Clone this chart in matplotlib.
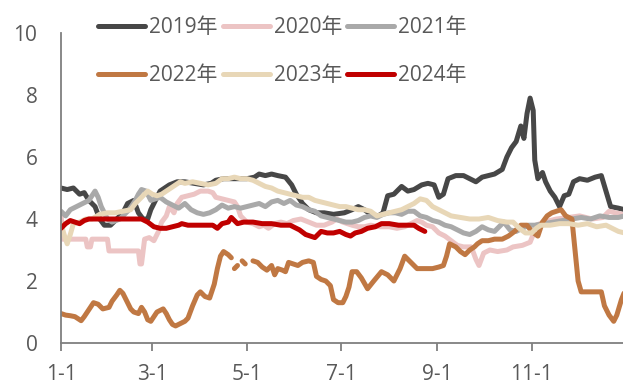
import numpy as np
import matplotlib.pyplot as plt

plt.rcParams['font.family'] = ['Open Sans', 'Noto Sans CJK SC', 'DejaVu Sans']

# day-of-year (0 = Jan 1) and value for each year
d2019 = [0, 4, 8, 12, 15, 18, 22, 25, 28, 32, 36, 40, 43, 47, 50, 53, 56, 58, 61, 64,
         67, 70, 75, 80, 86, 92, 97, 100, 105, 110, 115, 120, 125, 128, 132, 136, 140, 145, 149, 152,
         156, 160, 165, 170, 176, 183, 188, 192, 196, 200, 205, 208, 211, 215, 220, 224, 228, 233, 237, 241,
         244, 247, 250, 255, 260, 264, 268, 272, 276, 280, 285, 288, 291, 294, 297, 299, 301, 303, 305, 306,
         308, 311, 313, 316, 319, 322, 325, 328, 331, 335, 340, 345, 349, 352, 355, 360, 364]
v2019 = [5.0, 4.95, 5.0, 4.8, 4.85, 4.6, 4.4, 4.0, 3.8, 3.8, 4.0, 4.2, 4.5, 4.6, 4.2, 4.0, 4.0, 4.3, 4.6, 4.9,
         5.0, 5.1, 5.2, 5.2, 5.15, 5.1, 5.15, 5.25, 5.3, 5.3, 5.3, 5.3, 5.35, 5.45, 5.4, 5.45, 5.4, 5.35, 5.1, 4.8,
         4.5, 4.3, 4.2, 4.2, 4.15, 4.2, 4.3, 4.4, 4.3, 4.15, 4.1, 4.2, 4.75, 4.8, 5.05, 4.9, 4.95, 5.1, 5.15, 5.1,
         4.7, 4.8, 5.3, 5.4, 5.4, 5.3, 5.2, 5.35, 5.4, 5.45, 5.6, 6.0, 6.3, 6.5, 7.0, 6.6, 7.4, 7.9, 7.5, 5.9,
         5.3, 5.5, 5.2, 4.9, 4.7, 4.4, 4.75, 4.8, 5.2, 5.3, 5.25, 5.35, 5.4, 4.9, 4.4, 4.35, 4.3]

d2020 = [0, 1, 10, 16, 17, 19, 20, 30, 31, 45, 50, 51, 52, 54, 57, 60, 63, 65, 68, 70,
         73, 75, 78, 82, 86, 90, 95, 98, 100, 104, 108, 112, 114, 116, 118, 120, 124, 128, 131, 134,
         138, 142, 146, 150, 155, 160, 165, 170, 175, 178, 182, 188, 192, 196, 200, 206, 212, 217, 222, 230,
         233, 236, 240, 244, 248, 252, 256, 260, 265, 268, 270, 273, 277, 282, 288, 292, 298, 303, 305, 307,
         312, 320, 328, 335, 343, 350, 354, 358, 363]
v2020 = [4.2, 3.35, 3.35, 3.35, 3.1, 3.1, 3.35, 3.35, 2.97, 2.97, 2.97, 2.55, 2.55, 3.35, 3.4, 3.3, 3.6, 3.9, 4.1, 4.4,
         4.2, 4.5, 4.7, 4.75, 4.8, 4.9, 4.9, 4.85, 4.7, 4.65, 4.6, 4.55, 4.4, 4.1, 4.0, 3.9, 3.85, 3.75, 3.8, 3.7,
         3.85, 3.9, 3.85, 3.95, 4.0, 3.9, 3.8, 3.8, 3.9, 4.0, 3.9, 3.8, 3.75, 3.75, 3.8, 3.75, 3.75, 3.7, 3.75, 3.95,
         3.9, 3.8, 3.75, 3.55, 3.45, 3.3, 3.15, 3.1, 3.1, 2.7, 2.5, 2.9, 3.0, 2.95, 3.0, 3.1, 3.15, 3.25, 3.5, 3.8,
         3.9, 4.0, 4.05, 4.1, 4.0, 4.05, 4.25, 4.2, 4.15]

d2021 = [0, 3, 6, 10, 14, 18, 20, 22, 24, 26, 28, 30, 33, 38, 44, 48, 50, 52, 55, 58,
         61, 64, 68, 72, 76, 80, 84, 88, 92, 96, 100, 104, 108, 112, 116, 120, 124, 128, 132, 136,
         140, 144, 148, 152, 156, 160, 164, 168, 172, 176, 180, 184, 188, 192, 196, 200, 204, 208, 212, 216,
         220, 224, 228, 232, 236, 240, 244, 248, 252, 256, 260, 264, 268, 272, 276, 280, 284, 286, 290, 294,
         298, 302, 306, 312, 318, 324, 330, 336, 342, 348, 354, 360, 364]
v2021 = [4.25, 4.1, 4.3, 4.4, 4.5, 4.6, 4.75, 4.9, 4.7, 4.4, 4.2, 4.0, 3.9, 4.0, 4.3, 4.6, 4.8, 4.95, 4.9, 4.6,
         4.65, 4.7, 4.55, 4.45, 4.35, 4.5, 4.3, 4.2, 4.15, 4.2, 4.3, 4.45, 4.35, 4.4, 4.35, 4.4, 4.45, 4.5, 4.4, 4.55,
         4.6, 4.5, 4.6, 4.45, 4.4, 4.3, 4.25, 4.1, 4.05, 4.0, 3.95, 3.9, 3.9, 3.95, 4.05, 4.1, 4.05, 4.15, 4.2, 4.2,
         4.15, 4.25, 4.25, 4.1, 4.05, 3.95, 3.9, 3.8, 3.75, 3.65, 3.55, 3.5, 3.6, 3.75, 3.65, 3.6, 3.8, 3.9, 3.65, 3.6,
         3.7, 3.8, 3.8, 3.85, 3.9, 3.95, 4.0, 4.05, 4.0, 4.1, 4.05, 4.05, 4.1]

# nan marks days without a quote
d2022 = [0, 3, 6, 9, 13, 15, 17, 19, 21, 24, 27, 31, 33, 36, 38, 40, 43, 45, 47, 50,
         52, 54, 56, 58, 60, 62, 64, 66, 68, 70, 72, 74, 76, 80, 82, 85, 88, 90, 93, 96,
         99, 101, 103, 105, 108, 110, 111, 112, 114, 115, 117, 119, 121, 124, 127, 130, 133, 136, 138, 140,
         143, 145, 147, 150, 153, 156, 160, 163, 165, 168, 171, 174, 176, 179, 182, 184, 186, 188, 191, 194,
         198, 202, 207, 211, 215, 219, 222, 226, 230, 235, 240, 244, 247, 249, 251, 255, 258, 261, 264, 267,
         269, 272, 276, 280, 285, 289, 293, 297, 301, 304, 308, 311, 314, 317, 320, 323, 326, 330, 332, 334,
         336, 342, 349, 351, 354, 357, 359, 362, 364]
v2022 = [0.95, 0.9, 0.88, 0.85, 0.72, 0.85, 1.0, 1.15, 1.3, 1.25, 1.1, 1.15, 1.35, 1.55, 1.7, 1.6, 1.3, 1.1, 1.0, 0.95,
         1.15, 1.0, 0.75, 0.7, 0.85, 1.0, 1.05, 1.1, 0.95, 0.75, 0.6, 0.55, 0.6, 0.7, 0.8, 1.2, 1.55, 1.65, 1.5, 1.45,
         1.9, 2.4, 2.8, 2.95, 2.85, 2.75, np.nan, 2.4, 2.5, np.nan, 2.65, 2.55, np.nan, 2.65, 2.6, 2.45, 2.35, 2.5, 2.2, 2.4,
         2.35, 2.3, 2.6, 2.55, 2.5, 2.6, 2.65, 2.6, 2.15, 2.05, 2.0, 1.85, 1.4, 1.3, 1.3, 1.5, 1.8, 2.3, 2.3, 2.1,
         1.75, 2.0, 2.3, 2.2, 2.0, 2.4, 2.8, 2.6, 2.4, 2.4, 2.4, 2.45, 2.5, 2.8, 3.2, 3.1, 2.95, 2.85, 3.0, 3.1,
         3.2, 3.3, 3.3, 3.35, 3.35, 3.45, 3.6, 3.8, 3.8, 3.6, 3.45, 3.9, 4.1, 4.2, 4.25, 4.3, 4.1, 4.0, 3.0, 2.0,
         1.65, 1.65, 1.65, 1.2, 0.9, 0.7, 0.9, 1.4, 1.65]

d2023 = [0, 2, 4, 6, 8, 12, 16, 20, 25, 30, 35, 40, 45, 48, 50, 53, 56, 59, 62, 65,
         68, 71, 74, 77, 80, 85, 90, 95, 100, 104, 108, 112, 116, 120, 124, 128, 132, 136, 140, 144,
         148, 152, 156, 160, 164, 168, 172, 176, 180, 184, 188, 192, 196, 200, 204, 208, 212, 216, 220, 224,
         228, 232, 236, 240, 244, 248, 252, 258, 264, 270, 276, 282, 288, 292, 296, 300, 304, 307, 310, 316,
         322, 328, 334, 340, 346, 352, 356, 360, 364]
v2023 = [3.85, 3.5, 3.2, 3.5, 3.85, 3.9, 4.0, 4.0, 4.15, 4.2, 4.2, 4.25, 4.3, 4.5, 4.6, 4.75, 4.9, 4.8, 4.75, 4.8,
         4.9, 5.0, 5.1, 5.2, 5.15, 5.2, 5.15, 5.1, 5.15, 5.3, 5.3, 5.35, 5.3, 5.3, 5.25, 5.15, 5.05, 5.0, 4.9, 4.85,
         4.8, 4.75, 4.7, 4.7, 4.6, 4.55, 4.5, 4.45, 4.4, 4.4, 4.35, 4.3, 4.3, 4.25, 4.1, 4.15, 4.2, 4.25, 4.3, 4.4,
         4.5, 4.65, 4.6, 4.4, 4.3, 4.2, 4.1, 4.05, 4.0, 4.0, 4.05, 3.95, 3.9, 3.9, 3.7, 3.55, 3.55, 3.7, 3.8, 3.8,
         3.85, 3.85, 3.8, 3.85, 3.75, 3.8, 3.7, 3.6, 3.55]

d2024 = [0, 3, 6, 9, 12, 15, 18, 25, 35, 45, 52, 56, 60, 64, 68, 72, 76, 78, 82, 88,
         94, 98, 101, 104, 108, 110, 112, 114, 118, 124, 130, 136, 142, 148, 150, 154, 158, 161, 164, 166,
         168, 172, 176, 180, 184, 187, 190, 194, 198, 203, 207, 212, 218, 224, 228, 231, 235]
v2024 = [3.7, 3.85, 3.95, 3.9, 3.85, 3.95, 4.0, 4.0, 4.0, 4.0, 4.0, 3.9, 3.75, 3.7, 3.7, 3.75, 3.8, 3.85, 3.8, 3.8,
         3.8, 3.8, 3.7, 3.85, 3.9, 4.05, 3.95, 3.85, 3.9, 3.9, 3.85, 3.85, 3.8, 3.8, 3.75, 3.65, 3.5, 3.45, 3.4, 3.5,
         3.6, 3.55, 3.55, 3.6, 3.5, 3.45, 3.55, 3.6, 3.7, 3.75, 3.85, 3.85, 3.8, 3.8, 3.8, 3.7, 3.6]

years = ['2019年', '2020年', '2021年', '2022年', '2023年', '2024年']
colors = ['#474747', '#ECC4C4', '#A9A9A9', '#C07843', '#E8D7B7', '#C00000']
series = [(d2019, v2019), (d2020, v2020), (d2021, v2021),
          (d2022, v2022), (d2023, v2023), (d2024, v2024)]

tick_days = [0, 59, 120, 181, 243, 304]
tick_labels = ['1-1', '3-1', '5-1', '7-1', '9-1', '11-1']

fig = plt.figure(figsize=(6.23, 3.9), dpi=100)
ax = fig.add_axes([61 / 623, 47 / 390, 562 / 623, 310 / 390])

lines = []
for (d, v), name, c in zip(series, years, colors):
    ln, = ax.plot(d, v, color=c, lw=3.6, label=name, solid_capstyle='round', solid_joinstyle='round')
    lines.append(ln)

ax.set_xlim(0, 363)
ax.set_ylim(0, 10)
ax.set_yticks(range(0, 11, 2))
ax.set_xticks(tick_days)
ax.set_xticklabels(tick_labels)

txt = '#595959'
for s in ['top', 'right']:
    ax.spines[s].set_visible(False)
for s in ['left', 'bottom']:
    ax.spines[s].set_color('#7f7f7f')
    ax.spines[s].set_linewidth(1.3)
ax.tick_params(axis='y', length=0, pad=17, labelsize=15, labelcolor=txt)
ax.tick_params(axis='x', length=6, width=1.3, color='#7f7f7f', pad=9, labelsize=15, labelcolor=txt)

# legend fills column by column, so interleave to get years along the rows
order = [0, 3, 1, 4, 2, 5]
fig.legend([lines[i] for i in order], [years[i] for i in order],
           loc='upper left', bbox_to_anchor=(98 / 623, 1 - 17 / 390), ncol=3, frameon=False,
           fontsize=15, labelcolor=txt, handlelength=2.25, handletextpad=0.2,
           columnspacing=0.25, labelspacing=1.3, borderpad=0, borderaxespad=0)

fig.savefig('out.png', dpi=100)
